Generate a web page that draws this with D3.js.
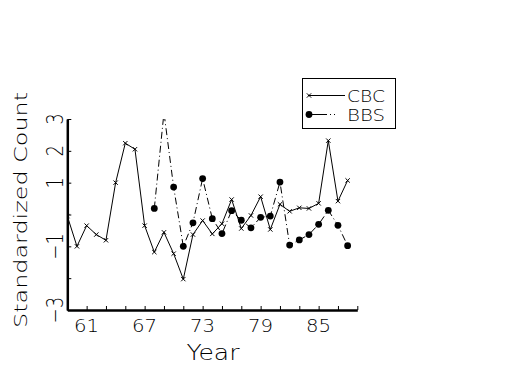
<!DOCTYPE html>
<html>
<head>
<meta charset="utf-8">
<script src="https://cdn.jsdelivr.net/npm/d3@7"></script>
<style>
  html, body { margin: 0; padding: 0; background: #fff; }
  svg { display: block; }
  text { font-family: "DejaVu Sans", sans-serif; font-weight: 200; fill: #000; }
</style>
</head>
<body>
<svg id="chart" width="525" height="375"></svg>
<script>
// ---- data ----
const cbcYears = [59,60,61,62,63,64,65,66,67,68,69,70,71,72,73,74,75,76,77,78,79,80,81,82,83,84,85,86,87,88];
const cbcValues = [-0.05,-1.0,-0.35,-0.63,-0.81,1.0,2.24,2.05,-0.35,-1.18,-0.56,-1.23,-2.03,-0.63,-0.19,-0.61,-0.29,0.47,-0.44,-0.03,0.56,-0.47,0.32,0.10,0.21,0.19,0.35,2.32,0.42,1.07];
const bbsYears = [68,69,70,71,72,73,74,75,76,77,78,79,80,81,82,83,84,85,86,87,88];
const bbsValues = [0.19,3.2,0.86,-1.0,-0.26,1.13,-0.13,-0.60,0.12,-0.18,-0.42,-0.09,-0.05,1.02,-0.96,-0.80,-0.63,-0.31,0.13,-0.34,-0.98];
const xTickValues = [59,61,63,65,67,69,71,73,75,77,79,81,83,85,87,89];
const xTickLabels = {61:"61",67:"67",73:"73",79:"79",85:"85"};
const yTickValues = [3,2,1,0,-1,-2,-3];
const yTickLabels = {3:"3",2:"2",1:"1","-1":"\u22121","-3":"\u22123"};
const seriesNames = ["CBC","BBS"];

const svg = d3.select("#chart");
const x = d3.scaleLinear().domain([59, 89]).range([67.3, 357.3]);
const y = d3.scaleLinear().domain([-3, 3]).range([310, 119]);

// clip
svg.append("defs").append("clipPath").attr("id","plotclip")
  .append("rect").attr("x", x(59)).attr("y", y(3)).attr("width", x(89)-x(59)).attr("height", y(-3)-y(3));

// axes
const xAxis = d3.axisBottom(x).tickValues(xTickValues).tickSizeInner(-4).tickSizeOuter(0).tickFormat("");
const gx = svg.append("g").attr("transform", `translate(0,${y(-3)})`).call(xAxis);
gx.select(".domain").attr("stroke-width", 2.5);
gx.selectAll(".tick line").attr("stroke-width", 1);

const yAxis = d3.axisLeft(y).tickValues(yTickValues).tickSizeInner(-4).tickSizeOuter(0).tickFormat("");
const gy = svg.append("g").attr("transform", `translate(${x(59)},0)`).call(yAxis);
gy.select(".domain").attr("stroke-width", 2.5);

// x tick labels
svg.append("g").selectAll("text")
  .data(xTickValues.filter(d => xTickLabels[d]))
  .join("text")
  .attr("x", d => x(d)).attr("y", 332)
  .attr("text-anchor", "middle")
  .attr("font-size", 17)
  .attr("textLength", 25).attr("lengthAdjust", "spacingAndGlyphs")
  .text(d => xTickLabels[d]);

// y tick labels (rotated)
svg.append("g").selectAll("text")
  .data(yTickValues.filter(d => yTickLabels[d] !== undefined))
  .join("text")
  .attr("transform", d => `translate(63,${y(d)}) rotate(-90) scale(0.95,1.25)`)
  .attr("text-anchor", "middle")
  .attr("font-size", 19)
  .text(d => yTickLabels[d]);

// axis titles
svg.append("text")
  .attr("transform", "translate(27,210) rotate(-90)")
  .attr("text-anchor", "middle")
  .attr("font-size", 17)
  .attr("textLength", 236).attr("lengthAdjust", "spacingAndGlyphs")
  .text("Standardized Count");

svg.append("text")
  .attr("x", 213).attr("y", 360)
  .attr("text-anchor", "middle")
  .attr("font-size", 21)
  .attr("textLength", 53).attr("lengthAdjust", "spacingAndGlyphs")
  .text("Year");

// data
const cbc = cbcYears.map((d,i) => ({year: d, value: cbcValues[i]}));
const bbs = bbsYears.map((d,i) => ({year: d, value: bbsValues[i]}));
const line = d3.line().x(d => x(d.year)).y(d => y(d.value));

const plot = svg.append("g").attr("clip-path", "url(#plotclip)");
plot.append("path").datum(cbc).attr("d", line)
  .attr("fill","none").attr("stroke","#000").attr("stroke-width",1);
plot.append("path").datum(bbs).attr("d", line)
  .attr("fill","none").attr("stroke","#000").attr("stroke-width",1)
  .attr("stroke-dasharray","7,3,1,3");

const xMark = d3.symbol().type(d3.symbolX).size(14);
plot.selectAll(".cbcm").data(cbc).join("path")
  .attr("transform", d => `translate(${x(d.year)},${y(d.value)})`)
  .attr("d", xMark).attr("fill","none").attr("stroke","#000").attr("stroke-width",1);
plot.selectAll(".bbsm").data(bbs).join("circle")
  .attr("cx", d => x(d.year)).attr("cy", d => y(d.value)).attr("r", 3.4)
  .attr("fill","#000");

// legend
const lg = svg.append("g");
lg.append("rect").attr("x",302.5).attr("y",78.5).attr("width",93).attr("height",50)
  .attr("fill","none").attr("stroke","#000").attr("stroke-width",1);
const rows = [{name: seriesNames[0], yy: 95.5}, {name: seriesNames[1], yy: 114.5}];
// CBC row
lg.append("line").attr("x1",308).attr("x2",345).attr("y1",rows[0].yy).attr("y2",rows[0].yy).attr("stroke","#000");
lg.append("path").attr("transform",`translate(309,${rows[0].yy})`).attr("d", xMark).attr("fill","none").attr("stroke","#000");
// BBS row
lg.append("line").attr("x1",308).attr("x2",345).attr("y1",rows[1].yy).attr("y2",rows[1].yy).attr("stroke","#000")
  .attr("stroke-dasharray","19,3,1,3,1,20");
lg.append("circle").attr("cx",309).attr("cy",rows[1].yy).attr("r",3.4).attr("fill","#000");
lg.selectAll(".lt").data(rows).join("text")
  .attr("x", 347).attr("y", d => d.yy + 6)
  .attr("font-size", 15)
  .attr("textLength", 38).attr("lengthAdjust", "spacingAndGlyphs")
  .text(d => d.name);
</script>
</body>
</html>
